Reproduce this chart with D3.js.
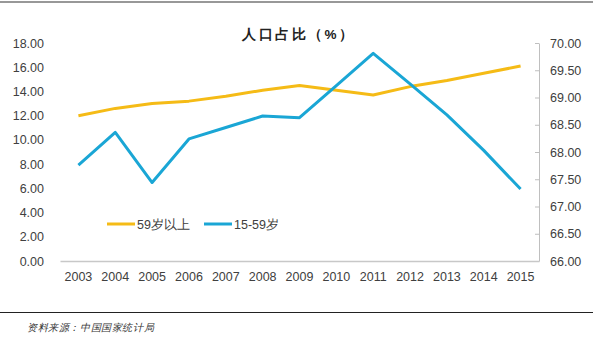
<!DOCTYPE html>
<html>
<head>
<meta charset="utf-8">
<script src="https://cdn.jsdelivr.net/npm/d3@7/dist/d3.min.js"></script>
<style>
  html, body { margin: 0; padding: 0; background: #fff; }
  svg { display: block; }
  text { font-family: "Liberation Sans", Arial, sans-serif; }
</style>
</head>
<body>
<svg id="chart" width="600" height="339"></svg>
<script>
// Population share by age group, 2003–2015
const years = ["2003","2004","2005","2006","2007","2008","2009","2010","2011","2012","2013","2014","2015"];
const over59 = [12.0, 12.6, 13.0, 13.2, 13.6, 14.1, 14.5, 14.1, 13.7, 14.4, 14.9, 15.5, 16.1];
const age15to59 = [67.76, 68.36, 67.44, 68.24, 68.45, 68.66, 68.63, 69.22, 69.81, 69.25, 68.68, 68.03, 67.32];
const leftTicks = [0, 2, 4, 6, 8, 10, 12, 14, 16, 18];
const rightTicks = [66, 66.5, 67, 67.5, 68, 68.5, 69, 69.5, 70];
const seriesNames = ["59岁以上", "15-59岁"];
const title = "人口占比（%）";
const source = "资料来源：中国国家统计局";

const colors = ["#F5BB16", "#1AA6D5"];
const svg = d3.select("#chart");

const plot = { left: 60, right: 539, top: 43, bottom: 261 };

const x = d3.scaleBand().domain(years).range([plot.left, plot.right]).padding(0);
const yL = d3.scaleLinear().domain([0, 18]).range([plot.bottom, plot.top]);
const yR = d3.scaleLinear().domain([66, 70]).range([plot.bottom, plot.top]);
const cx = d => x(d) + x.bandwidth() / 2;

// frame rules
svg.append("line").attr("x1", 0).attr("x2", 593).attr("y1", 2).attr("y2", 2)
  .attr("stroke", "#333").attr("stroke-width", 1.2);
svg.append("line").attr("x1", 0).attr("x2", 593).attr("y1", 312.5).attr("y2", 312.5)
  .attr("stroke", "#222").attr("stroke-width", 1);

// title
svg.append("text").attr("x", 242).attr("y", 39).attr("text-anchor", "start")
  .attr("font-family", "'Noto Sans CJK SC', sans-serif")
  .attr("font-size", 13.5).attr("font-weight", "bold").attr("letter-spacing", 2.5)
  .attr("fill", "#222").text(title);

// left axis
const gL = svg.append("g").attr("transform", `translate(${plot.left},0)`)
  .call(d3.axisLeft(yL).tickValues(leftTicks).tickFormat(d3.format(".2f")).tickSize(0).tickPadding(16));
gL.select(".domain").remove();
gL.selectAll("text").attr("font-size", 12.5).attr("fill", "#404040")
  .attr("font-family", "'Liberation Sans', Arial, sans-serif");

// right axis
const gR = svg.append("g").attr("transform", `translate(${plot.right},0)`)
  .call(d3.axisRight(yR).tickValues(rightTicks).tickFormat(d3.format(".2f"))
    .tickSizeInner(-4).tickSizeOuter(0).tickPadding(11));
gR.select(".domain").attr("stroke", "#bfbfbf");
gR.selectAll(".tick line").attr("stroke", "#bfbfbf");
gR.selectAll("text").attr("font-size", 12.5).attr("fill", "#404040")
  .attr("font-family", "'Liberation Sans', Arial, sans-serif");

// category axis
const gX = svg.append("g").attr("transform", `translate(0,${plot.bottom})`)
  .call(d3.axisBottom(x).tickSize(0).tickPadding(11).tickSizeOuter(0));
gX.select(".domain").attr("stroke", "#c8c8c8").attr("stroke-width", 1.5);
gX.selectAll("text").attr("font-size", 12.5).attr("fill", "#404040")
  .attr("font-family", "'Liberation Sans', Arial, sans-serif");

// series lines
const lineL = d3.line().x((d, i) => cx(years[i])).y(d => yL(d));
const lineR = d3.line().x((d, i) => cx(years[i])).y(d => yR(d));

svg.append("path").datum(over59).attr("d", lineL)
  .attr("fill", "none").attr("stroke", colors[0]).attr("stroke-width", 3)
  .attr("stroke-linejoin", "round");
svg.append("path").datum(age15to59).attr("d", lineR)
  .attr("fill", "none").attr("stroke", colors[1]).attr("stroke-width", 3)
  .attr("stroke-linejoin", "round");

// legend
const legend = [
  { name: seriesNames[0], color: colors[0], x: 107 },
  { name: seriesNames[1], color: colors[1], x: 204 }
];
const lg = svg.append("g");
legend.forEach(l => {
  lg.append("line").attr("x1", l.x).attr("x2", l.x + 28).attr("y1", 224).attr("y2", 224)
    .attr("stroke", l.color).attr("stroke-width", 3);
  lg.append("text").attr("x", l.x + 30).attr("y", 228.5)
    .attr("font-size", 12.5).attr("fill", "#404040")
    .attr("font-family", "'Liberation Sans', 'Noto Sans CJK SC', sans-serif")
    .text(l.name);
});

// source note
svg.append("text").attr("x", 27).attr("y", 331)
  .attr("font-family", "'Noto Sans CJK SC', sans-serif")
  .attr("font-size", 10).attr("font-style", "italic").attr("letter-spacing", 0.6)
  .attr("fill", "#333").text(source);
</script>
</body>
</html>
